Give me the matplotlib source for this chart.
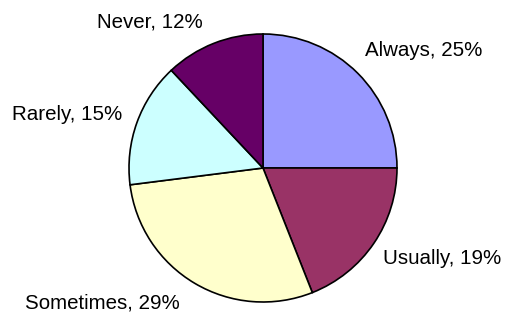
import matplotlib.pyplot as plt

# answer categories and their share (%)
categories = ["Always", "Usually", "Sometimes", "Rarely", "Never"]
shares = [25, 19, 29, 15, 12]
colors = ["#9999FF", "#993366", "#FFFFCC", "#CCFFFF", "#660066"]

# label anchor points in pixels (left edge, vertical centre), top-left origin
label_pos = [(365, 50), (383, 258), (25, 303), (12, 115), (97, 22)]

W, H = 506, 316
fig = plt.figure(figsize=(W / 100, H / 100), dpi=100)
ax = fig.add_axes([0, 0, 1, 1])

ax.pie(shares, colors=colors, startangle=90, counterclock=False,
       center=(263, H - 168), radius=134, frame=True,
       wedgeprops=dict(edgecolor="black", linewidth=1.2))
ax.set_xlim(0, W)
ax.set_ylim(0, H)
ax.set_aspect("auto")
ax.axis("off")

for cat, val, (x, y) in zip(categories, shares, label_pos):
    ax.text(x, H - y, f"{cat}, {val}%", ha="left", va="center",
            fontsize=14.8, family="Liberation Sans", color="black")

fig.savefig("out.png", dpi=100)
